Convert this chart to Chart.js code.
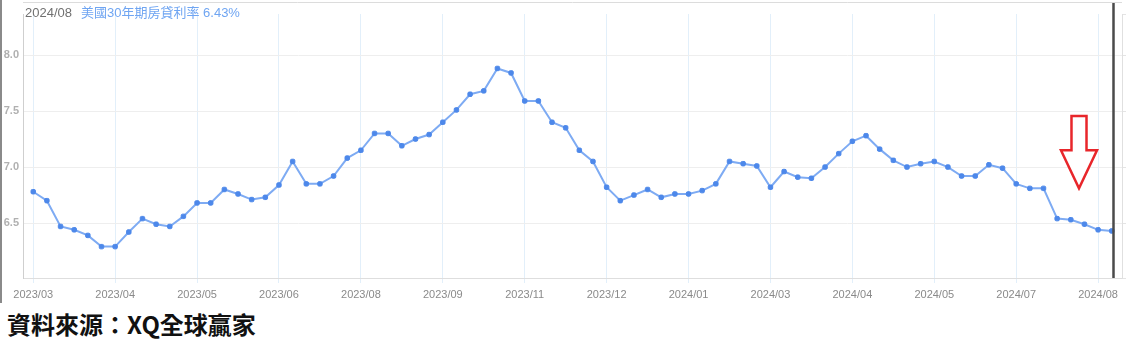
<!DOCTYPE html>
<html>
<head>
<meta charset="utf-8">
<script src="https://cdn.jsdelivr.net/npm/chart.js@4"></script>
<style>
  html, body { margin: 0; padding: 0; background: #fff; }
  body { width: 1136px; height: 351px; position: relative; overflow: hidden; }
  #frame { position: absolute; left: 0; top: 0; width: 2px; height: 303px; background: #8a8a8a; }
  #wrap { position: absolute; left: 0; top: 0; width: 1136px; height: 305px; }
  #header { position: absolute; left: 25px; top: 2px; font: 13px "Liberation Sans", Arial, sans-serif; white-space: nowrap; }
  #header .date { color: #707070; }
  #header .name { color: #6fa5f2; margin-left: 9px; font-family: "Liberation Sans", "Noto Sans CJK TC", sans-serif; }
  #source { position: absolute; left: 7px; top: 309px; font: 700 24px "Noto Sans CJK TC", sans-serif; color: #111; white-space: nowrap; line-height: 30px; }
</style>
</head>
<body>
<div id="wrap"><canvas id="rateChart" width="1136" height="305"></canvas></div>
<div id="frame"></div>
<div id="header"><span class="date"></span><span class="name"></span></div>
<div id="source">資料來源：XQ全球贏家</div>
<script>
// 每 6 週一個刻度標籤
const tickLabels = ['2023/03', '2023/04', '2023/05', '2023/06', '2023/08', '2023/09', '2023/11',
    '2023/12', '2024/01', '2024/03', '2024/04', '2024/05', '2024/07', '2024/08'];
const tickEvery = 6;

// 美國30年期房貸利率 (%)，每週
const rates = [
    6.78, 6.70, 6.47, 6.44, 6.39, 6.29, 6.29, 6.42, 6.54, 6.49,
    6.47, 6.56, 6.68, 6.68, 6.80, 6.76, 6.71, 6.73, 6.84, 7.05,
    6.85, 6.85, 6.92, 7.08, 7.15, 7.30, 7.30, 7.19, 7.25, 7.29,
    7.40, 7.51, 7.65, 7.68, 7.88, 7.84, 7.59, 7.59, 7.40, 7.35,
    7.15, 7.05, 6.82, 6.70, 6.75, 6.80, 6.73, 6.76, 6.76, 6.79,
    6.85, 7.05, 7.03, 7.01, 6.82, 6.96, 6.91, 6.90, 7.00, 7.12,
    7.23, 7.28, 7.16, 7.06, 7.00, 7.03, 7.05, 7.00, 6.92, 6.92,
    7.02, 6.99, 6.85, 6.81, 6.81, 6.54, 6.53, 6.49, 6.44, 6.43
];
const yTicks = [6.5, 7.0, 7.5, 8.0];

const seriesName = '美國30年期房貸利率';
const latestDate = '2024/08';

document.querySelector('#header .date').textContent = latestDate;
document.querySelector('#header .name').textContent =
    seriesName + ' ' + rates[rates.length - 1].toFixed(2) + '%';

// 十字線 + 紅色箭頭
const overlay = {
    id: 'overlay',
    afterDraw(chart) {
        const { ctx, chartArea, scales } = chart;
        const x = scales.x, y = scales.y;
        ctx.save();
        // 上框線
        ctx.strokeStyle = '#dcdcdc';
        ctx.lineWidth = 1;
        ctx.beginPath();
        ctx.moveTo(chartArea.left, 2.5);
        ctx.lineTo(chartArea.right, 2.5);
        ctx.stroke();
        // 最新一點的十字線
        const lx = Math.round(x.getPixelForValue(rates.length - 1)) + 1.5;
        ctx.strokeStyle = '#4a4a4a';
        ctx.lineWidth = 2.5;
        ctx.beginPath();
        ctx.moveTo(lx, 3);
        ctx.lineTo(lx, chartArea.bottom);
        ctx.stroke();
        // 向下箭頭
        const cx = x.getPixelForValue(76.6);
        const sw = x.getPixelForValue(0.55) - x.getPixelForValue(0);
        const hw = x.getPixelForValue(1.32) - x.getPixelForValue(0);
        const top = y.getPixelForValue(7.455);
        const mid = y.getPixelForValue(7.15);
        const tip = y.getPixelForValue(6.81);
        ctx.strokeStyle = '#e8262b';
        ctx.fillStyle = '#fff';
        ctx.lineWidth = 2.5;
        ctx.lineJoin = 'miter';
        ctx.beginPath();
        ctx.moveTo(cx - sw, top);
        ctx.lineTo(cx + sw, top);
        ctx.lineTo(cx + sw, mid);
        ctx.lineTo(cx + hw, mid);
        ctx.lineTo(cx, tip);
        ctx.lineTo(cx - hw, mid);
        ctx.lineTo(cx - sw, mid);
        ctx.closePath();
        ctx.fill();
        ctx.stroke();
        ctx.restore();
    }
};

const ctx = document.getElementById('rateChart').getContext('2d');
new Chart(ctx, {
    type: 'line',
    data: {
        datasets: [{
            label: seriesName,
            data: rates.map((v, i) => ({ x: i, y: v })),
            borderColor: '#7eabf3',
            borderWidth: 2,
            pointRadius: 2.6,
            pointStyle: 'rectRounded',
            pointBackgroundColor: '#4d88ea',
            pointBorderColor: '#4d88ea',
            pointBorderWidth: 1,
            tension: 0
        }]
    },
    options: {
        responsive: false,
        animation: false,
        layout: { padding: { top: 14, left: 0, right: 0, bottom: 0 } },
        plugins: { legend: { display: false }, tooltip: { enabled: false } },
        scales: {
            x: {
                type: 'linear',
                min: -0.75,
                max: rates.length - 1 + 0.75,
                afterBuildTicks: scale => {
                    scale.ticks = tickLabels.map((_, k) => ({ value: k * tickEvery }));
                },
                afterFit: scale => { scale.height = 27; },
                ticks: {
                    autoSkip: false,
                    maxRotation: 0,
                    padding: 5,
                    color: '#8a8a8a',
                    font: { family: '"Liberation Sans", Arial, sans-serif', size: 11 },
                    callback: v => tickLabels[Math.round(v / tickEvery)]
                },
                grid: { color: '#e2effa', tickLength: 5 },
                border: { color: '#dedede' }
            },
            y: {
                min: 6.01,
                max: 8.366,
                afterBuildTicks: scale => {
                    scale.ticks = yTicks.map(v => ({ value: v }));
                },
                afterFit: scale => { scale.width = 23; },
                ticks: {
                    padding: 4,
                    color: '#b0b0b0',
                    font: { family: '"Liberation Sans", Arial, sans-serif', size: 11, weight: 'bold' },
                    callback: v => v.toFixed(1)
                },
                grid: { color: '#eeeeee', drawTicks: false },
                border: { color: '#cfcfcf' }
            },
            y2: {
                position: 'right',
                min: 6.01,
                max: 8.366,
                afterFit: scale => { scale.width = 14; },
                ticks: { display: false },
                grid: { drawOnChartArea: false, tickLength: 4, color: '#e4e4e4' },
                border: { color: '#e0e0e0' }
            }
        }
    },
    plugins: [overlay]
});
</script>
</body>
</html>
